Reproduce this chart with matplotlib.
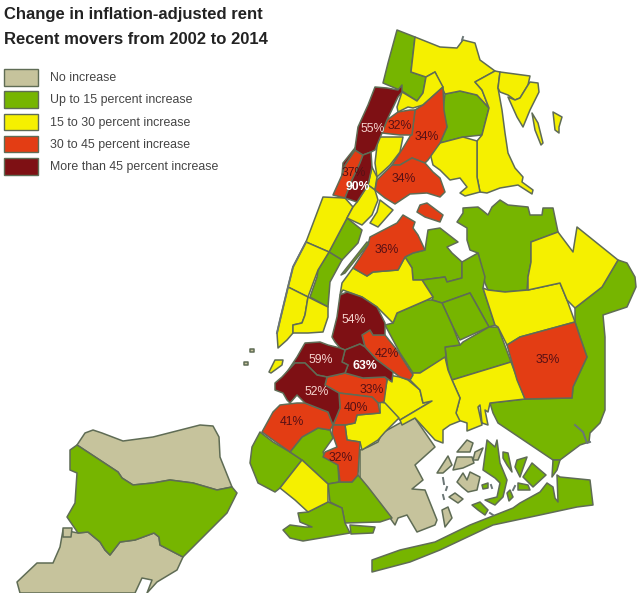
#!/usr/bin/env python3
import matplotlib
matplotlib.use('Agg')
import matplotlib.pyplot as plt

plt.rcParams['font.family'] = ['Liberation Sans', 'DejaVu Sans']

title_lines = ['Change in inflation-adjusted rent', 'Recent movers from 2002 to 2014']
legend_labels = ['No increase', 'Up to 15 percent increase', '15 to 30 percent increase',
                 '30 to 45 percent increase', 'More than 45 percent increase']
colors = ['#c6c39c', '#76b500', '#f5f000', '#e33d14', '#7e1014']
edge = '#5f6c55'

# district outlines, traced in picture coordinates
no_increase = [
    [(77,445),(85,433),(93,430),(102,433),(123,441),(153,437),(200,425),(213,426),(219,437),(220,457),(232,487),(217,490),(193,483),(170,480),(153,483),(133,485),(122,478),(118,472)],
    [(63,530),(78,533),(88,532),(100,542),(105,550),(110,555),(120,542),(135,540),(154,533),(159,537),(160,545),(183,557),(177,570),(157,582),(147,593),(152,580),(142,578),(135,593),(20,593),(17,582),(37,563),(53,563),(60,547)],
    [(63,528),(72,528),(71,537),(63,537)],
    [(360,450),(368,447),(378,442),(382,433),(400,423),(415,418),(435,447),(415,465),(423,480),(412,489),(425,490),(437,520),(435,525),(417,532),(407,515),(398,518),(395,525),(390,518),(360,483)],
    [(437,473),(448,456),(452,465),(443,473)],
    [(457,452),(467,440),(473,443),(470,452)],
    [(453,470),(457,457),(472,457),(474,463),(463,468)],
    [(473,460),(475,452),(483,448),(478,460)],
    [(457,482),(463,473),(467,480),(470,472),(480,477),(477,490),(468,492),(462,487)],
    [(449,497),(455,493),(463,499),(458,503)],
    [(442,510),(448,507),(452,518),(445,527)],
    [(250,349),(254,349),(254,352),(250,352)],
    [(244,362),(248,362),(248,365),(244,365)],
]
up_to_15 = [
    [(397,30),(415,37),(411,72),(426,77),(423,93),(417,101),(402,91),(383,83),(388,63)],
    [(445,94),(460,91),(477,95),(489,108),(482,135),(463,137),(440,143),(447,127),(443,110)],
    [(347,218),(362,230),(358,243),(342,260),(329,252)],
    [(329,252),(342,260),(330,282),(328,307),(310,297),(317,277),(318,270)],
    [(367,242),(369,243),(345,273),(341,275)],
    [(428,230),(440,228),(458,242),(447,247),(452,253),(462,262),(462,278),(447,282),(445,277),(422,280),(413,280),(412,268),(405,257),(413,253),(425,250)],
    [(457,222),(463,213),(463,208),(478,207),(482,210),(488,215),(492,207),(500,200),(508,205),(528,207),(530,215),(542,215),(543,208),(553,208),(558,232),(531,242),(531,262),(528,277),(527,290),(505,292),(488,290),(485,283),(478,253),(470,250),(467,240),(467,228)],
    [(462,262),(478,253),(485,277),(483,288),(495,325),(489,327),(470,293),(442,303),(432,300),(433,297),(422,280),(445,277),(447,282),(462,278)],
    [(442,303),(470,293),(489,327),(460,340),(453,327)],
    [(445,347),(460,345),(463,342),(489,327),(498,327),(511,362),(452,380),(448,370)],
    [(393,323),(397,313),(427,300),(432,300),(442,303),(453,327),(460,345),(445,347),(446,357),(420,373),(413,373),(400,353),(385,325)],
    [(575,308),(602,287),(618,260),(627,263),(635,277),(636,287),(627,307),(603,315),(605,337),(605,410),(600,423),(590,433),(589,442),(580,445),(560,460),(553,460),(498,423),(493,413),(490,403),(525,399),(572,398),(573,387),(587,357),(580,337),(575,322)],
    [(260,432),(273,442),(290,452),(302,460),(280,488),(275,492),(258,483),(250,463),(252,447)],
    [(290,452),(302,437),(318,428),(330,430),(333,438),(323,452),(325,457),(338,465),(339,482),(328,484),(302,460)],
    [(328,484),(340,482),(352,482),(358,475),(368,487),(392,518),(380,522),(345,523),(342,508),(330,502)],
    [(283,530),(290,525),(305,527),(312,527),(300,522),(298,513),(308,512),(328,502),(342,508),(345,523),(350,533),(303,541),(290,538)],
    [(350,525),(375,527),(373,533),(351,534)],
    [(487,440),(495,447),(497,440),(500,463),(507,480),(503,497),(495,505),(485,500),(497,497),(500,483),(495,478),(483,470)],
    [(517,460),(527,457),(520,477),(515,467)],
    [(532,463),(546,475),(533,487),(523,477)],
    [(518,483),(528,485),(530,490),(518,490)],
    [(507,493),(510,490),(513,497),(509,501)],
    [(482,485),(488,483),(488,488),(483,489)],
    [(472,505),(480,502),(488,510),(485,515),(478,510)],
    [(503,452),(508,453),(512,472),(507,465),(503,458)],
    [(553,460),(560,460),(557,470),(552,477)],
    [(372,560),(400,550),(435,542),(470,525),(513,508),(520,503),(540,492),(547,483),(553,487),(555,498),(558,502),(557,475),(560,477),(590,480),(593,505),(577,507),(540,515),(493,525),(440,550),(410,562),(372,572)],
    [(70,450),(77,445),(118,472),(122,478),(133,485),(153,483),(170,480),(193,483),(217,490),(232,487),(237,493),(227,513),(183,557),(160,545),(159,537),(154,533),(135,540),(120,542),(110,555),(105,550),(100,542),(88,532),(78,533),(67,517),(75,503),(77,473),(70,470)],
]
from_15_to_30 = [
    [(415,37),(440,47),(457,48),(463,40),(475,43),(480,60),(495,71),(475,82),(482,90),(489,108),(477,95),(460,91),(445,94),(435,72),(426,77),(411,72)],
    [(435,72),(443,87),(423,105),(413,108),(408,107),(398,112),(397,107),(402,92),(417,101),(423,93),(426,77)],
    [(378,137),(403,137),(400,152),(390,165),(377,177),(375,163)],
    [(372,167),(377,177),(375,190),(368,185)],
    [(475,82),(495,71),(500,72),(498,88),(502,110),(505,133),(508,153),(515,168),(523,177),(522,182),(533,190),(532,194),(518,185),(500,188),(487,193),(480,192),(477,177),(477,141),(482,135),(489,108),(482,90)],
    [(500,72),(530,76),(528,85),(520,98),(515,100),(508,95),(500,92),(498,88)],
    [(530,82),(538,83),(539,92),(530,110),(523,127),(517,117),(508,97),(515,100),(520,98),(528,85)],
    [(532,113),(538,123),(543,143),(541,145),(535,130)],
    [(553,112),(562,117),(559,127),(559,133),(555,130)],
    [(430,153),(440,143),(463,137),(477,141),(477,177),(480,192),(465,196),(460,193),(467,187),(460,178),(450,180),(440,170),(433,165)],
    [(323,197),(345,198),(353,207),(347,218),(329,252),(306,242)],
    [(368,185),(375,190),(378,200),(372,215),(362,225),(347,218),(353,207),(357,202)],
    [(380,200),(393,210),(378,227),(370,223),(377,212)],
    [(306,242),(329,252),(318,270),(315,278),(308,297),(288,287),(293,267)],
    [(288,287),(308,297),(305,315),(302,323),(293,325),(293,333),(287,340),(278,348),(277,333),(280,320)],
    [(308,297),(328,307),(328,317),(323,332),(308,333),(293,333),(293,325),(302,323),(305,315)],
    [(269,372),(275,360),(283,360),(282,365),(271,373)],
    [(353,268),(367,276),(373,272),(398,270),(405,257),(412,268),(413,280),(422,280),(433,297),(427,300),(397,313),(393,323),(385,315),(377,307),(362,297),(343,290),(340,295),(342,283)],
    [(483,288),(488,290),(505,292),(528,290),(560,283),(567,300),(575,322),(520,337),(507,345),(498,327),(495,325)],
    [(531,242),(558,232),(573,252),(577,227),(618,260),(602,287),(575,308),(567,300),(560,283),(528,290),(528,277),(531,262)],
    [(452,380),(511,362),(525,399),(490,403),(488,412),(485,410),(488,425),(482,423),(480,405),(478,407),(482,425),(467,431),(467,423),(458,420),(456,413),(460,398)],
    [(388,375),(400,377),(408,380),(420,390),(423,403),(432,401),(400,420),(393,413),(383,402)],
    [(410,380),(413,373),(420,373),(445,357),(448,370),(452,380),(460,398),(456,413),(460,421),(450,425),(443,430),(443,443),(435,440),(415,418),(402,425),(400,420),(432,401),(423,403),(420,390)],
    [(380,402),(385,403),(399,418),(385,432),(378,440),(362,450),(360,442),(347,440),(345,425),(355,423),(357,415),(380,413)],
    [(280,488),(302,460),(328,484),(328,502),(308,512),(295,500)],
]
from_30_to_45 = [
    [(443,87),(444,110),(447,127),(440,143),(428,160),(425,163),(412,158),(400,165),(392,165),(403,148),(412,133),(415,110),(423,105)],
    [(387,120),(398,112),(410,110),(415,110),(412,135),(400,135),(382,133)],
    [(377,180),(392,165),(400,165),(412,158),(425,163),(433,172),(440,178),(445,192),(440,197),(427,193),(410,194),(395,204),(385,198),(375,190)],
    [(355,150),(363,155),(360,163),(352,180),(345,198),(333,195),(342,175),(345,165)],
    [(420,205),(427,203),(443,215),(440,222),(425,217),(417,212)],
    [(370,237),(397,223),(403,215),(415,222),(413,228),(418,235),(425,250),(413,253),(405,257),(398,270),(373,272),(367,276),(353,268),(368,245)],
    [(507,345),(520,337),(575,322),(580,337),(587,357),(573,387),(572,398),(525,399),(517,380)],
    [(362,335),(370,330),(373,335),(385,335),(397,350),(413,375),(410,380),(400,377),(377,360),(365,347)],
    [(325,385),(327,377),(345,373),(363,378),(385,377),(387,380),(384,402),(378,403),(372,397),(339,393)],
    [(339,393),(372,397),(378,403),(380,413),(357,415),(355,423),(345,425),(333,425),(340,408)],
    [(333,425),(345,425),(347,440),(360,442),(358,475),(352,482),(340,482),(338,465),(323,457),(325,452),(337,447),(332,433)],
    [(262,432),(273,412),(280,405),(297,403),(305,403),(328,412),(333,425),(330,430),(318,428),(302,437),(290,452),(273,440)],
]
more_than_45 = [
    [(375,87),(387,88),(398,90),(402,85),(402,92),(398,97),(387,120),(382,133),(375,150),(371,152),(363,155),(355,150),(355,148),(358,127),(368,105)],
    [(371,152),(372,167),(368,185),(357,202),(345,198),(352,180),(360,163),(363,155)],
    [(343,163),(355,148),(355,150),(345,165),(342,175)],
    [(340,295),(347,292),(362,297),(377,307),(385,323),(385,335),(373,335),(370,330),(362,335),(365,347),(360,344),(345,350),(340,348),(335,342),(332,337),(337,317)],
    [(345,350),(360,344),(365,347),(377,360),(393,372),(392,382),(385,377),(363,378),(345,373),(348,365),(342,362)],
    [(305,343),(320,342),(328,345),(340,348),(345,350),(342,362),(348,365),(345,373),(327,377),(317,375),(305,363),(295,363),(285,375),(297,357)],
    [(275,383),(282,377),(295,363),(305,363),(317,375),(327,377),(325,385),(339,393),(340,408),(333,425),(328,412),(305,403),(297,395),(290,403),(287,400),(283,393),(275,390)],
]
classes = [no_increase, up_to_15, from_15_to_30, from_30_to_45, more_than_45]

# piers along the shore and small marks in the bay
shore_marks = [
    [(306,242),(293,267),(288,287),(280,320),(277,333)],
    [(462,40),(463,37)],
    [(443,478),(444,484)],
    [(447,487),(446,490)],
    [(443,495),(444,499)],
    [(491,485),(492,488)],
    [(515,486),(513,490)],
    [(490,513),(493,515)],
    [(575,425),(583,432),(587,443),(590,442)],
]

# percent labels: text, x, y, colour, bold
labels = [
    ('55%', 373, 129, '#f6d5cf', False), ('32%', 400, 126, '#571015', False),
    ('34%', 427, 137, '#571015', False), ('34%', 404, 179, '#571015', False),
    ('37%', 354, 173, '#571015', False), ('90%', 358, 187, 'white', True),
    ('36%', 387, 250, '#571015', False), ('54%', 354, 320, '#f6d5cf', False),
    ('59%', 321, 360, '#f6d5cf', False), ('63%', 365, 366, 'white', True),
    ('42%', 387, 354, '#571015', False), ('52%', 317, 392, '#f6d5cf', False),
    ('33%', 372, 390, '#571015', False), ('40%', 356, 408, '#571015', False),
    ('41%', 292, 422, '#571015', False), ('32%', 341, 458, '#571015', False),
    ('35%', 548, 360, '#571015', False),
]

fig = plt.figure(figsize=(6.4, 5.93), dpi=100)
ax = fig.add_axes([0, 0, 1, 1])
ax.set_xlim(0, 640)
ax.set_ylim(593, 0)
ax.axis('off')

for shapes, color in zip(classes, colors):
    for shape in shapes:
        xs, ys = zip(*shape)
        ax.fill(xs, ys, facecolor=color, edgecolor=edge, linewidth=1.1, joinstyle='round')

for mark in shore_marks:
    xs, ys = zip(*mark)
    ax.plot(xs, ys, color='#6a7575', linewidth=1.4)

for text, x, y, color, bold in labels:
    ax.text(x, y, text, color=color, fontsize=8.8, ha='center', va='center',
            fontweight='bold' if bold else 'normal')

for i, line in enumerate(title_lines):
    ax.text(4, 15 + i * 24, line, color='#222222', fontsize=12, fontweight='bold', va='center')

for i, (text, color) in enumerate(zip(legend_labels, colors)):
    top = 69 + i * 22.3
    ax.add_patch(plt.Rectangle((4, top), 34, 16.5, facecolor=color, edgecolor=edge, linewidth=1))
    ax.text(50, top + 9, text, color='#444444', fontsize=8.9, va='center')

fig.savefig('out.png', dpi=100)
